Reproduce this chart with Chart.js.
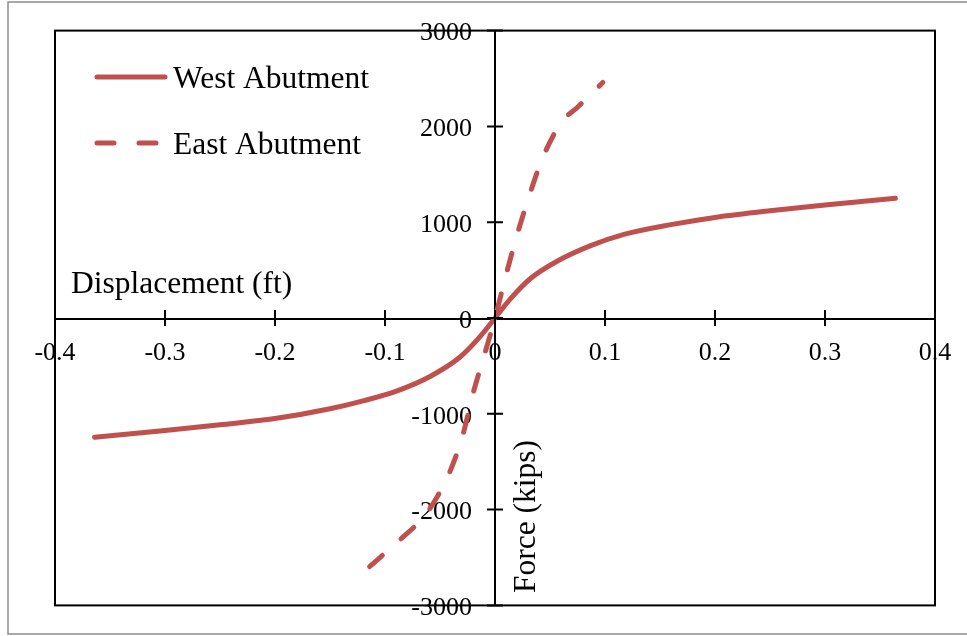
<!DOCTYPE html>
<html>
<head>
<meta charset="utf-8">
<script src="https://cdn.jsdelivr.net/npm/chart.js@4/dist/chart.umd.min.js"></script>
<style>
  html, body { margin: 0; padding: 0; background: #fff; }
  canvas { display: block; }
</style>
</head>
<body>
<canvas id="chart" width="967" height="636"></canvas>
<script>
  // force-displacement curves
  const westX = [-0.364, -0.3, -0.25, -0.2, -0.15, -0.12, -0.089, -0.059, -0.032, -0.014, 0,
                 0.014, 0.032, 0.056, 0.087, 0.118, 0.16, 0.2, 0.25, 0.3, 0.364];
  const westY = [-1245, -1175, -1115, -1050, -948, -865, -760, -610, -410, -200, 0,
                 200, 410, 590, 755, 875, 975, 1050, 1120, 1180, 1250];
  const eastX = [-0.114, -0.085, -0.065, -0.052, -0.041, -0.029, -0.02, -0.01, 0,
                 0.01, 0.02, 0.031, 0.044, 0.061, 0.075, 0.098];
  const eastY = [-2595, -2300, -2080, -1855, -1605, -1210, -790, -400, 0,
                 448, 865, 1271, 1690, 2052, 2200, 2458];
  const seriesNames = ['West Abutment', 'East Abutment'];
  const xTicks = [-0.4, -0.3, -0.2, -0.1, 0, 0.1, 0.2, 0.3, 0.4];
  const yTicks = [-3000, -2000, -1000, 0, 1000, 2000, 3000];

  const RED = '#c0504d';
  const FONT = '"Liberation Serif", "Times New Roman", serif';

  const toPoints = (xs, ys) => xs.map((x, i) => ({ x: x, y: ys[i] }));

  // plot frame, crossing tick marks, legend and axis titles
  const decorations = {
    id: 'decorations',
    beforeDraw(chart) {
      const ctx = chart.ctx;
      ctx.save();
      ctx.fillStyle = '#fff';
      ctx.fillRect(0, 0, chart.width, chart.height);
      ctx.strokeStyle = '#8c8c8c';
      ctx.lineWidth = 1.5;
      ctx.strokeRect(8, 2, chart.width, 632);
      ctx.restore();
    },
    afterDraw(chart) {
      const ctx = chart.ctx;
      const area = chart.chartArea;
      const xs = chart.scales.x;
      const ys = chart.scales.y;
      const x0 = xs.getPixelForValue(0);
      const y0 = ys.getPixelForValue(0);
      ctx.save();
      ctx.strokeStyle = '#000';
      ctx.lineWidth = 2;
      ctx.strokeRect(area.left, area.top, area.right - area.left, area.bottom - area.top);
      ctx.beginPath();
      xs.ticks.forEach((t) => {
        const px = xs.getPixelForValue(t.value);
        ctx.moveTo(px, y0 - 8);
        ctx.lineTo(px, y0 + 8);
      });
      ys.ticks.forEach((t) => {
        const py = ys.getPixelForValue(t.value);
        ctx.moveTo(x0 - 8, py);
        ctx.lineTo(x0 + 8, py);
      });
      ctx.stroke();

      // legend
      ctx.strokeStyle = RED;
      ctx.lineWidth = 5;
      ctx.lineCap = 'round';
      ctx.beginPath();
      ctx.moveTo(97, 77);
      ctx.lineTo(165, 77);
      ctx.stroke();
      ctx.setLineDash([17, 25]);
      ctx.beginPath();
      ctx.moveTo(97, 143);
      ctx.lineTo(165, 143);
      ctx.stroke();
      ctx.setLineDash([]);

      ctx.fillStyle = '#000';
      ctx.font = '31.5px ' + FONT;
      ctx.textAlign = 'left';
      ctx.textBaseline = 'alphabetic';
      ctx.fillText(seriesNames[0], 173, 88);
      ctx.fillText(seriesNames[1], 173, 154);

      // axis titles
      ctx.fillText('Displacement (ft)', 71, 293);
      ctx.translate(535, 593);
      ctx.rotate(-Math.PI / 2);
      ctx.fillText('Force (kips)', 0, 0);
      ctx.restore();
    },
  };

  new Chart(document.getElementById('chart'), {
    type: 'scatter',
    data: {
      datasets: [{
        label: seriesNames[0],
        data: toPoints(westX, westY),
        showLine: true,
        borderColor: RED,
        borderWidth: 5,
        borderCapStyle: 'round',
        cubicInterpolationMode: 'monotone',
        pointRadius: 0,
      }, {
        label: seriesNames[1],
        data: toPoints(eastX, eastY),
        showLine: true,
        borderColor: RED,
        borderWidth: 5,
        borderDash: [17, 25],
        borderCapStyle: 'round',
        cubicInterpolationMode: 'monotone',
        pointRadius: 0,
      }],
    },
    options: {
      responsive: false,
      animation: false,
      layout: { padding: { left: 55, top: 24, right: 32, bottom: 21 } },
      plugins: { legend: { display: false }, tooltip: { enabled: false } },
      scales: {
        x: {
          type: 'linear',
          position: 'center',
          min: xTicks[0],
          max: xTicks[xTicks.length - 1],
          afterBuildTicks: (scale) => { scale.ticks = xTicks.map((v) => ({ value: v })); },
          grid: { display: false },
          border: { display: true, color: '#000', width: 2 },
          ticks: {
            color: '#000',
            font: { family: FONT, size: 26 },
            padding: 12,
            maxRotation: 0,
            autoSkip: false,
            callback: (v) => String(Number(v.toFixed(1))),
          },
        },
        y: {
          type: 'linear',
          position: 'center',
          min: yTicks[0],
          max: yTicks[yTicks.length - 1],
          afterBuildTicks: (scale) => { scale.ticks = yTicks.map((v) => ({ value: v })); },
          grid: { display: false },
          border: { display: true, color: '#000', width: 2 },
          ticks: {
            color: '#000',
            font: { family: FONT, size: 26 },
            padding: 15,
            labelOffset: 3,
            autoSkip: false,
            callback: (v) => String(v),
          },
        },
      },
    },
    plugins: [decorations],
  });
</script>
</body>
</html>
